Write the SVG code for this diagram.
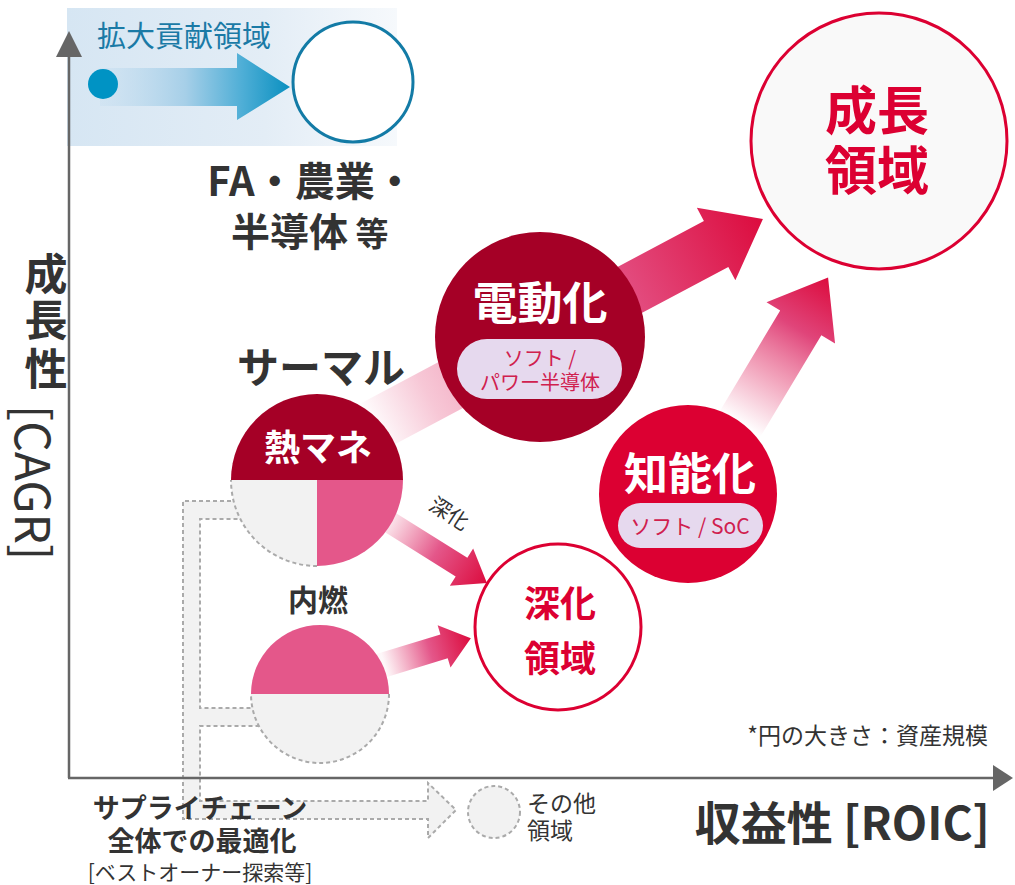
<svg xmlns="http://www.w3.org/2000/svg" width="1015" height="885" viewBox="0 0 1015 885">
<defs>
<style>
text{font-family:"Noto Sans CJK JP","Noto Sans",sans-serif;}
.b{font-weight:bold;}
.dk{fill:#333333;}
.wh{fill:#ffffff;}
.rd{fill:#dc0032;}
.pt{fill:#d0204e;}
.pill{fill:#e6d9ee;}
.gray{fill:#f2f2f2;}
.dash{fill:none;stroke:#aaaaaa;stroke-width:2;stroke-dasharray:4 3;}
.axis{stroke:#666666;stroke-width:2.5;fill:none;}
</style>
<linearGradient id="bandG" x1="0" y1="0" x2="1" y2="0">
<stop offset="0" stop-color="#d6e6f3"/>
<stop offset="0.6" stop-color="#e3edf6"/>
<stop offset="1" stop-color="#f6f9fc"/>
</linearGradient>
<linearGradient id="blueArrowG" gradientUnits="userSpaceOnUse" x1="100" y1="0" x2="290" y2="0">
<stop offset="0" stop-color="#c2dcef" stop-opacity="0.3"/>
<stop offset="0.45" stop-color="#a6cfe8"/>
<stop offset="0.75" stop-color="#4eaed6"/>
<stop offset="1" stop-color="#0a90c0"/>
</linearGradient>
<linearGradient id="a1G" gradientUnits="userSpaceOnUse" x1="0" y1="0" x2="445" y2="0">
<stop offset="0" stop-color="#e8608a" stop-opacity="0"/>
<stop offset="0.15" stop-color="#e8608a" stop-opacity="0.35"/>
<stop offset="0.6" stop-color="#e4578a"/>
<stop offset="1" stop-color="#dc0c3e"/>
</linearGradient>
<linearGradient id="a2G" gradientUnits="userSpaceOnUse" x1="0" y1="0" x2="171" y2="0">
<stop offset="0" stop-color="#e8608a" stop-opacity="0"/>
<stop offset="0.35" stop-color="#e8608a" stop-opacity="0.6"/>
<stop offset="0.65" stop-color="#e0457a"/>
<stop offset="1" stop-color="#dc0c3e"/>
</linearGradient>
<linearGradient id="a3G" gradientUnits="userSpaceOnUse" x1="0" y1="0" x2="132" y2="0">
<stop offset="0.1" stop-color="#e8608a" stop-opacity="0.1"/>
<stop offset="0.55" stop-color="#e4578a"/>
<stop offset="1" stop-color="#dc0c3e"/>
</linearGradient>
<linearGradient id="a4G" gradientUnits="userSpaceOnUse" x1="0" y1="0" x2="95" y2="0">
<stop offset="0.05" stop-color="#e8608a" stop-opacity="0.05"/>
<stop offset="0.55" stop-color="#e4578a"/>
<stop offset="1" stop-color="#dc0c3e"/>
</linearGradient>
</defs>

<g id="expansion-band">
<rect x="67" y="8" width="330" height="138" fill="url(#bandG)"/>
<text x="97" y="47" font-size="29" fill="#1a7aa6">拡大貢献領域</text>
</g>

<g id="connectors">
<path d="M100 68 L237 68 L237 53 L290 87 L237 120 L237 106 L100 106 Z" fill="url(#blueArrowG)"/>
<g transform="translate(370 428) rotate(-28)">
<path d="M0 -26 L392 -26 L392 -41 L445 0 L392 41 L392 26 L0 26 Z" fill="url(#a1G)"/>
</g>
<g transform="translate(740 424) rotate(-59)">
<path d="M0 -24 L118 -24 L118 -40 L171 0 L118 40 L118 24 L0 24 Z" fill="url(#a2G)"/>
</g>
<g transform="translate(375 513) rotate(32)">
<path d="M0 -11 L102 -11 L102 -22 L132 0 L102 22 L102 11 L0 11 Z" fill="url(#a3G)"/>
</g>
<g transform="translate(380 666) rotate(-17)">
<path d="M0 -12.5 L67 -12.5 L67 -22 L95 0 L67 22 L67 12.5 L0 12.5 Z" fill="url(#a4G)"/>
</g>
<text transform="translate(449 514) rotate(33)" text-anchor="middle" y="7" font-size="21" class="dk">深化</text>
<path id="supply-chain" d="M245 501 L183 501 L183 819 L428 819 L428 838 L456 810 L428 783 L428 801 L200 801 L200 726 L265 726 L265 708 L200 708 L200 519 L245 519 Z" class="gray" stroke="#aaaaaa" stroke-width="2" stroke-dasharray="4 3"/>
</g>

<g id="axes">
<line x1="69" y1="56" x2="69" y2="778" class="axis"/>
<line x1="68" y1="778" x2="994" y2="778" class="axis"/>
<path d="M69 31 L82 57 L56 57 Z" fill="#666666"/>
<path d="M1013 778 L993 765 L993 791 Z" fill="#666666"/>
</g>

<g id="node-dot">
<circle cx="103" cy="84" r="15" fill="#0093c4"/>
</g>

<g id="node-expansion-target">
<circle cx="353" cy="82" r="60" fill="#ffffff" stroke="#137ba6" stroke-width="3"/>
</g>

<g id="label-fa">
<text x="311" y="196" text-anchor="middle" font-size="40" class="b dk">FA・農業・</text>
<text x="231" y="246" font-size="39" class="b dk">半導体<tspan font-size="33"> 等</tspan></text>
</g>

<g id="node-growth">
<circle cx="879" cy="141" r="128" fill="#f9f9f9" stroke="#dc0032" stroke-width="3"/>
<text text-anchor="middle" font-size="52" class="b rd"><tspan x="877" y="130">成長</tspan><tspan x="877" y="190">領域</tspan></text>
</g>

<g id="node-electrification">
<circle cx="540" cy="337" r="105" fill="#a50026"/>
<text x="540" y="320" text-anchor="middle" font-size="45" class="b wh">電動化</text>
<rect x="457" y="339" width="165" height="60" rx="30" class="pill"/>
<text text-anchor="middle" font-size="20" class="pt"><tspan x="540" y="366">ソフト /</tspan><tspan x="540" y="390">パワー半導体</tspan></text>
</g>

<g id="node-intelligence">
<circle cx="688" cy="494" r="89" fill="#dc0032"/>
<text x="690" y="490" text-anchor="middle" font-size="44" class="b wh">知能化</text>
<rect x="618" y="503" width="145" height="45" rx="22.5" class="pill"/>
<text x="690" y="534" text-anchor="middle" font-size="21" class="pt">ソフト / SoC</text>
</g>

<g id="node-thermal">
<text x="321" y="383" text-anchor="middle" font-size="42" class="b dk">サーマル</text>
<path d="M231 480 A86 86 0 0 1 403 480 Z" fill="#a50026"/>
<path d="M317 480 L403 480 A86 86 0 0 1 317 566 Z" fill="#e4578a"/>
<path d="M317 480 L317 566 A86 86 0 0 1 231 480 Z" class="gray"/>
<path d="M317 566 A86 86 0 0 1 231 480" class="dash"/>
<text x="318" y="461" text-anchor="middle" font-size="36" class="b wh">熱マネ</text>
</g>

<g id="node-ice">
<text x="318" y="611" text-anchor="middle" font-size="30" class="b dk">内燃</text>
<path d="M251 694 A69 69 0 0 1 389 694 Z" fill="#e4578a"/>
<path d="M389 694 A69 69 0 0 1 251 694 Z" class="gray"/>
<path d="M389 694 A69 69 0 0 1 251 694" class="dash"/>
</g>

<g id="node-deepening">
<circle cx="558" cy="627" r="83" fill="#ffffff" stroke="#dc0032" stroke-width="3"/>
<text text-anchor="middle" font-size="36" class="b rd"><tspan x="560" y="617">深化</tspan><tspan x="560" y="672">領域</tspan></text>
</g>

<g id="node-other">
<circle cx="494" cy="812" r="26" class="gray"/>
<circle cx="494" cy="812" r="26" class="dash"/>
<text font-size="23" class="dk"><tspan x="527" y="812">その他</tspan><tspan x="527" y="839">領域</tspan></text>
</g>

<g id="label-supply">
<text text-anchor="middle" font-size="27" class="b dk"><tspan x="200" y="818">サプライチェーン</tspan><tspan x="202" y="851">全体での最適化</tspan></text>
<text x="200" y="880" text-anchor="middle" font-size="21" class="dk">[ベストオーナー探索等]</text>
</g>

<g id="axis-labels">
<text text-anchor="middle" font-size="43" class="b dk"><tspan x="46" y="290">成</tspan><tspan x="46" y="336">長</tspan><tspan x="46" y="385">性</tspan></text>
<text transform="translate(15 405) rotate(90)" font-size="48" class="dk">[CAGR]</text>
<text x="990" y="840" text-anchor="end" font-size="46" class="b dk">収益性 [ROIC]</text>
<text x="988" y="744" text-anchor="end" font-size="23" class="dk">*円の大きさ：資産規模</text>
</g>
</svg>
